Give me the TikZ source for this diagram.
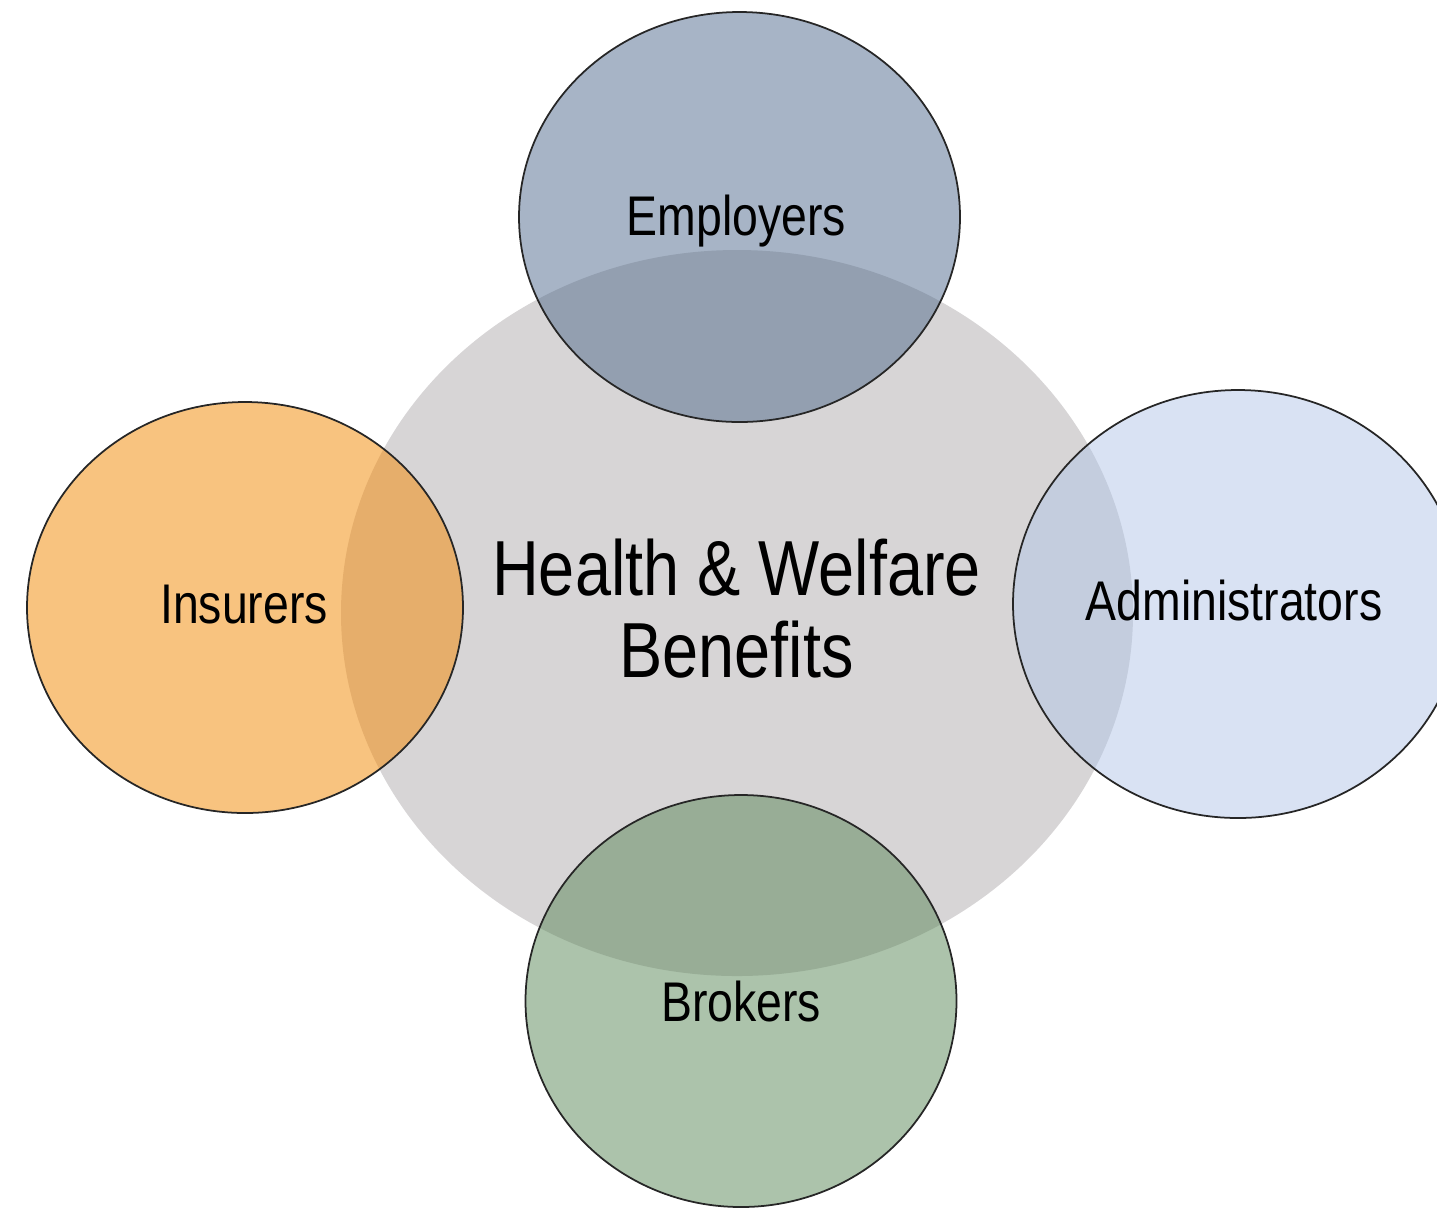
\documentclass[tikz,border=0pt]{standalone}
\usepackage{fontspec}
\setmainfont{Liberation Sans}[FakeStretch=0.83]
\definecolor{grayc}{HTML}{D7D5D6}
\definecolor{empbase}{HTML}{A7B4C6}
\definecolor{empover}{HTML}{939FB0}
\definecolor{insbase}{HTML}{F8C37F}
\definecolor{insover}{HTML}{E6AE6B}
\definecolor{admbase}{HTML}{D9E2F3}
\definecolor{admover}{HTML}{C4CDDE}
\definecolor{brobase}{HTML}{ACC3AB}
\definecolor{broover}{HTML}{98AD96}
\begin{document}
\begin{tikzpicture}[x=0.01cm,y=-0.01cm,
  lbl/.style={font=\fontsize{15.9}{19}\selectfont, inner sep=0pt, anchor=base},
  rim/.style={draw=black!85, line width=0.5pt}]
\useasboundingbox (0,0) rectangle (1437,1208);
\clip (0,0) rectangle (1437,1208);
% central circle
\fill[grayc] (737,613) ellipse [x radius=396, y radius=363];
% Employers
\fill[empbase] (739.5,217) ellipse [x radius=220.5, y radius=205];
\begin{scope}
  \clip (737,613) ellipse [x radius=396, y radius=363];
  \fill[empover] (739.5,217) ellipse [x radius=220.5, y radius=205];
\end{scope}
\draw[rim] (739.5,217) ellipse [x radius=220.5, y radius=205];
% Insurers
\fill[insbase] (245,607.5) ellipse [x radius=218, y radius=205.5];
\begin{scope}
  \clip (737,613) ellipse [x radius=396, y radius=363];
  \fill[insover] (245,607.5) ellipse [x radius=218, y radius=205.5];
\end{scope}
\draw[rim] (245,607.5) ellipse [x radius=218, y radius=205.5];
% Administrators
\fill[admbase] (1238,604) ellipse [x radius=225, y radius=214];
\begin{scope}
  \clip (737,613) ellipse [x radius=396, y radius=363];
  \fill[admover] (1238,604) ellipse [x radius=225, y radius=214];
\end{scope}
\draw[rim] (1238,604) ellipse [x radius=225, y radius=214];
% Brokers
\fill[brobase] (741,1001) ellipse [x radius=215.5, y radius=206];
\begin{scope}
  \clip (737,613) ellipse [x radius=396, y radius=363];
  \fill[broover] (741,1001) ellipse [x radius=215.5, y radius=206];
\end{scope}
\draw[rim] (741,1001) ellipse [x radius=215.5, y radius=206];
% labels
\node[lbl] (emp) at (736.5,235) {Employers};
\node[lbl] (ins) at (244,623) {Insurers};
\node[lbl] (adm) at (1234,620) {Administrators};
\node[lbl] (bro) at (741,1021) {Brokers};
\node[font=\fontsize{22.2}{23.3}\selectfont, align=center, inner sep=0pt, anchor=base] (hw) at (736.5,677) {Health \& Welfare\\Benefits};
\end{tikzpicture}
\end{document}
